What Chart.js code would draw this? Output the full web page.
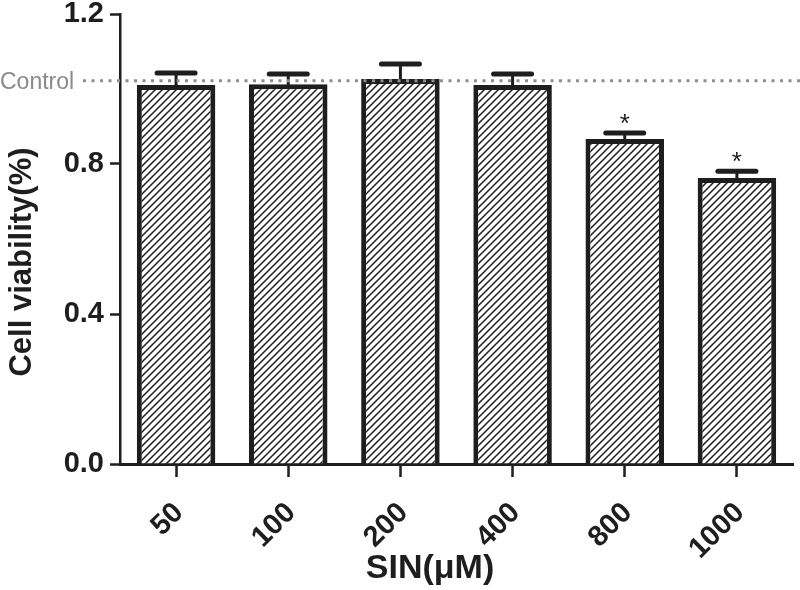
<!DOCTYPE html>
<html>
<head>
<meta charset="utf-8">
<script src="https://cdn.jsdelivr.net/npm/chart.js@4.4.1/dist/chart.umd.min.js"></script>
<style>
  html, body { margin: 0; padding: 0; background: #fff; }
  #wrap { width: 800px; height: 590px; }
</style>
</head>
<body>
<div id="wrap"><canvas id="chart" width="800" height="590"></canvas></div>
<script>
// data
const doses = ['50', '100', '200', '400', '800', '1000'];
const viability = [1.011, 1.013, 1.027, 1.011, 0.867, 0.763];
const errors = [0.032, 0.027, 0.040, 0.029, 0.016, 0.018];
const marks = ['', '', '', '', '*', '*'];
const yTicks = [0, 0.4, 0.8, 1.2];
const controlLevel = 1.022;

const ink = '#1e1e1e';

// diagonal hatch fill for the bars
const makeHatch = () => {
  const size = 7;
  const c = document.createElement('canvas');
  c.width = size;
  c.height = size;
  const g = c.getContext('2d');
  g.fillStyle = '#fff';
  g.fillRect(0, 0, size, size);
  g.strokeStyle = ink;
  g.lineWidth = 1.5;
  g.beginPath();
  g.moveTo(-1, size + 1);
  g.lineTo(size + 1, -1);
  g.moveTo(-2, 2);
  g.lineTo(2, -2);
  g.moveTo(size - 2, size + 2);
  g.lineTo(size + 2, size - 2);
  g.stroke();
  return g.createPattern(c, 'repeat');
};

// error bars, asterisks, control line and axis titles
const decorations = {
  id: 'decorations',
  afterDatasetsDraw(chart) {
    const { ctx, scales: { x, y } } = chart;
    ctx.save();

    // error bars
    ctx.strokeStyle = ink;
    ctx.lineCap = 'round';
    viability.forEach((v, i) => {
      const cx = x.getPixelForValue(i);
      const top = y.getPixelForValue(v);
      const capY = y.getPixelForValue(v + errors[i]);
      ctx.lineWidth = 3;
      ctx.beginPath();
      ctx.moveTo(cx, top);
      ctx.lineTo(cx, capY);
      ctx.stroke();
      ctx.lineWidth = 5;
      ctx.beginPath();
      ctx.moveTo(cx - 19, capY);
      ctx.lineTo(cx + 19, capY);
      ctx.stroke();
      if (marks[i]) {
        ctx.fillStyle = ink;
        ctx.font = '26px "Liberation Sans", Arial, sans-serif';
        ctx.textAlign = 'center';
        ctx.textBaseline = 'alphabetic';
        ctx.fillText(marks[i], cx, capY - 1);
      }
    });

    // control reference line
    const cy = y.getPixelForValue(controlLevel);
    ctx.strokeStyle = '#8e8e8e';
    ctx.lineWidth = 3;
    ctx.lineCap = 'butt';
    ctx.setLineDash([3, 5.5]);
    ctx.beginPath();
    ctx.moveTo(83, cy);
    ctx.lineTo(800, cy);
    ctx.stroke();
    ctx.setLineDash([]);
    ctx.fillStyle = '#8a8a8a';
    ctx.font = '23px "Liberation Sans", Arial, sans-serif';
    ctx.textAlign = 'left';
    ctx.textBaseline = 'alphabetic';
    ctx.fillText('Control', 0, cy + 8);

    // axis titles
    ctx.fillStyle = ink;
    ctx.font = 'bold 31px "Liberation Sans", Arial, sans-serif';
    ctx.textAlign = 'center';
    ctx.textBaseline = 'middle';
    ctx.save();
    ctx.translate(22, 262);
    ctx.rotate(-Math.PI / 2);
    ctx.fillText('Cell viability(%)', 0, 0);
    ctx.restore();

    ctx.font = 'bold 34px "Liberation Sans", Arial, sans-serif';
    ctx.textBaseline = 'alphabetic';
    ctx.fillText('SIN(μM)', 430, 578);

    ctx.restore();
  },
};

const chart = new Chart(document.getElementById('chart'), {
  type: 'bar',
  data: {
    labels: doses,
    datasets: [
      {
        data: viability,
        backgroundColor: makeHatch(),
        borderColor: ink,
        borderWidth: 5,
        borderSkipped: 'bottom',
        barPercentage: 0.7,
        categoryPercentage: 1.0,
      },
    ],
  },
  options: {
    responsive: false,
    animation: false,
    layout: { padding: { top: 14, right: 7, left: 0, bottom: 0 } },
    plugins: {
      legend: { display: false },
      tooltip: { enabled: false },
    },
    scales: {
      x: {
        offset: true,
        afterFit: (scale) => {
          scale.height = 126;
          scale.paddingLeft = 0;
          scale.paddingRight = 0;
        },
        border: { color: ink, width: 3 },
        grid: {
          drawOnChartArea: false,
          drawTicks: true,
          tickLength: 13,
          tickWidth: 2.5,
          tickColor: ink,
          offset: false,
        },
        ticks: {
          color: ink,
          font: { family: '"Liberation Sans", Arial, sans-serif', size: 29, weight: 'bold' },
          minRotation: 45,
          maxRotation: 45,
          padding: 19,
          labelOffset: 3,
        },
      },
      y: {
        min: 0,
        max: 1.2,
        afterFit: (scale) => {
          scale.width = 120;
          scale.paddingTop = 0;
          scale.paddingBottom = 0;
        },
        afterBuildTicks: (scale) => {
          scale.ticks = yTicks.map((v) => ({ value: v }));
        },
        border: { color: ink, width: 2.5 },
        grid: {
          drawOnChartArea: false,
          drawTicks: true,
          tickLength: 10,
          tickWidth: 2.5,
          tickColor: ink,
        },
        ticks: {
          color: ink,
          font: { family: '"Liberation Sans", Arial, sans-serif', size: 29, weight: 'bold' },
          padding: 6,
          callback: (v) => v.toFixed(1),
        },
      },
    },
  },
  plugins: [decorations],
});
</script>
</body>
</html>
